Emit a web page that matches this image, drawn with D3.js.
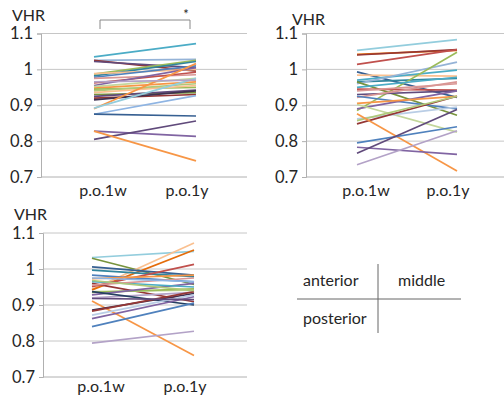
<!DOCTYPE html>
<html><head><meta charset="utf-8">
<script src="https://cdn.jsdelivr.net/npm/d3@7"></script>
<style>
html,body{margin:0;padding:0;background:#fff;}
svg{display:block;font-family:Lato, "Open Sans", sans-serif;}
</style></head>
<body><svg id="c" width="504" height="398"></svg>
<script>
// ---- data ----
const categories = ["p.o.1w", "p.o.1y"];
const yTickValues = [0.7, 0.8, 0.9, 1.0, 1.1];
const yTickLabels = ["0.7", "0.8", "0.9", "1", "1.1"];
const yLabel = "VHR";
const regionNames = ["anterior", "middle", "posterior"];

// anterior: p.o.1w values, p.o.1y values
const anterior1w = [1.035,1.025,1.025,1.022,0.987,0.982,0.988,0.978,0.975,0.962,0.955,0.952,0.948,0.945,0.940,0.935,0.930,0.925,0.920,0.915,0.890,0.892,0.875,0.875,0.828,0.805,0.828,0.965];
const anterior1y = [1.072,1.028,0.995,1.005,1.025,1.022,1.000,1.010,0.985,0.992,1.005,0.975,0.965,0.950,0.960,0.955,0.935,0.942,0.930,0.940,1.016,0.975,0.927,0.870,0.813,0.856,0.745,0.970];
const anteriorColors = ["#4BACC6","#95B3D7","#953735","#604A7B","#9BBB59","#31859C","#FAC090","#4F81BD","#D99694","#C0504D","#8064A2","#C3D69B","#F79646","#9BBB59","#AFC97A","#FAC090","#77933C","#604A7B","#953735","#3F3151","#F79646","#93CDDD","#8EB4E3","#376092","#8064A2","#604A7B","#F79646","#B3A2C7"];

const middle1w = [1.053,1.042,1.040,1.014,0.993,0.984,0.970,0.965,0.960,0.965,0.885,0.945,0.930,0.922,0.925,0.890,0.905,0.902,0.862,0.848,0.857,0.876,0.795,0.783,0.766,0.734,0.950,0.940];
const middle1y = [1.083,1.053,1.055,1.055,0.922,0.981,0.998,0.975,1.020,0.872,1.048,0.942,0.940,0.965,0.890,0.940,0.925,0.825,0.895,0.925,0.925,0.717,0.840,0.763,0.888,0.829,0.978,0.960];
const middleColors = ["#93CDDD","#E46C0A","#953735","#C0504D","#376092","#FAC090","#4BACC6","#31859C","#95B3D7","#77933C","#9BBB59","#C0504D","#604A7B","#D99694","#4F81BD","#8064A2","#F79646","#C3D69B","#B9CDE5","#953735","#AFC97A","#F79646","#4F81BD","#8064A2","#604A7B","#B3A2C7","#4BACC6","#D99694"];

const posterior1w = [1.032,1.030,0.944,0.942,1.006,0.997,0.951,0.960,0.983,0.973,0.937,0.935,0.928,0.920,0.937,0.911,0.886,0.883,0.862,0.872,0.840,0.794,0.965,0.955,0.968,0.918,0.975];
const posterior1y = [1.049,0.957,1.072,1.053,0.983,0.979,1.013,0.909,0.964,0.983,0.941,0.945,0.960,0.935,0.900,0.760,0.932,0.937,0.923,0.928,0.905,0.827,0.950,0.975,0.940,0.915,0.965];
const posteriorColors = ["#93CDDD","#77933C","#FAC090","#E46C0A","#376092","#31859C","#C0504D","#953735","#4F81BD","#F79646","#C3D69B","#9BBB59","#8064A2","#B3A2C7","#254061","#F79646","#3F3151","#953735","#8064A2","#B9CDE5","#4F81BD","#B3A2C7","#4BACC6","#D99694","#AFC97A","#604A7B","#8EB4E3"];

// ---- layout ----
const panels = [
  {w:anterior1w, y:anterior1y, c:anteriorColors, axisX:41, right:247, top:33.5, bottom:177, lx0:94, lx1:196, labY:196, vhrX:12, vhrY:21, bracket:true},
  {w:middle1w, y:middle1y, c:middleColors, axisX:306, right:504, top:33.5, bottom:177, lx0:357, lx1:457, labY:196, vhrX:292, vhrY:25, bracket:false},
  {w:posterior1w, y:posterior1y, c:posteriorColors, axisX:43, right:247, top:233, bottom:377, lx0:92, lx1:194, labY:392, vhrX:14, vhrY:220, bracket:false}
];

const svg = d3.select("#c");
const FS = 16;
const TFS = 16.5;
const TXT = "#262626";

panels.forEach(p => {
  const g = svg.append("g");
  const y = d3.scaleLinear().domain([0.7, 1.1]).range([p.bottom, p.top]);
  const x = d3.scalePoint().domain(categories).range([p.lx0, p.lx1]);
  const xl = d3.scalePoint().domain(categories).range([p.lx0 + 9, p.lx1 - 9]);

  // gridlines
  g.selectAll(".grid").data(yTickValues.filter(v => v > 0.7)).enter().append("line")
    .attr("x1", p.axisX).attr("x2", p.right)
    .attr("y1", d => y(d)).attr("y2", d => y(d))
    .attr("stroke", "#c6c6c6").attr("stroke-width", 1);
  // bottom axis line
  g.append("line").attr("x1", p.axisX).attr("x2", p.right)
    .attr("y1", y(0.7)).attr("y2", y(0.7)).attr("stroke", "#b0b0b0");

  // y axis
  const ax = g.append("g").attr("transform", `translate(${p.axisX},0)`)
    .call(d3.axisLeft(y).tickValues(yTickValues).tickSize(4).tickPadding(4)
      .tickFormat((d, i) => yTickLabels[i]));
  ax.select(".domain").attr("stroke", "#b0b0b0");
  ax.selectAll(".tick line").attr("stroke", "#b0b0b0");
  ax.selectAll("text").attr("font-size", TFS).attr("fill", TXT)
    .attr("font-family", "Lato, 'Open Sans', sans-serif");

  // series lines
  p.w.forEach((v, i) => {
    const vals = [v, p.y[i]];
    g.append("path")
      .datum(categories.map((c, k) => ({c, v: vals[k]})))
      .attr("fill", "none").attr("stroke", p.c[i]).attr("stroke-width", 1.7)
      .attr("d", d3.line().x(d => x(d.c)).y(d => y(d.v)));
  });

  // category labels
  g.selectAll(".cl").data(categories).enter().append("text")
    .attr("x", d => xl(d)).attr("y", p.labY).attr("text-anchor", "middle")
    .attr("font-size", FS).attr("fill", TXT).text(d => d);

  // VHR label
  g.append("text").attr("x", p.vhrX).attr("y", p.vhrY).attr("font-size", FS)
    .attr("fill", TXT).text(yLabel);

  if (p.bracket) {
    const bx0 = xl(categories[0]) - 3, bx1 = xl(categories[1]) + 3;
    g.append("path").attr("d", `M${bx0},29V20H${bx1}V29`).attr("fill", "none")
      .attr("stroke", "#888").attr("stroke-width", 1);
    g.append("text").attr("x", bx1 - 4).attr("y", 19).attr("text-anchor", "middle")
      .attr("font-size", 13).attr("fill", TXT).text("*");
  }
});

// position key
const key = svg.append("g");
key.append("line").attr("x1", 378).attr("x2", 378).attr("y1", 264).attr("y2", 333).attr("stroke", "#666");
key.append("line").attr("x1", 297).attr("x2", 461).attr("y1", 299).attr("y2", 299).attr("stroke", "#666");
const keyPos = [[303, 286, "start"], [398, 286, "start"], [303, 324, "start"]];
regionNames.forEach((n, i) => {
  key.append("text").attr("x", keyPos[i][0]).attr("y", keyPos[i][1])
    .attr("font-size", FS).attr("fill", TXT).text(n);
});
</script></body></html>
